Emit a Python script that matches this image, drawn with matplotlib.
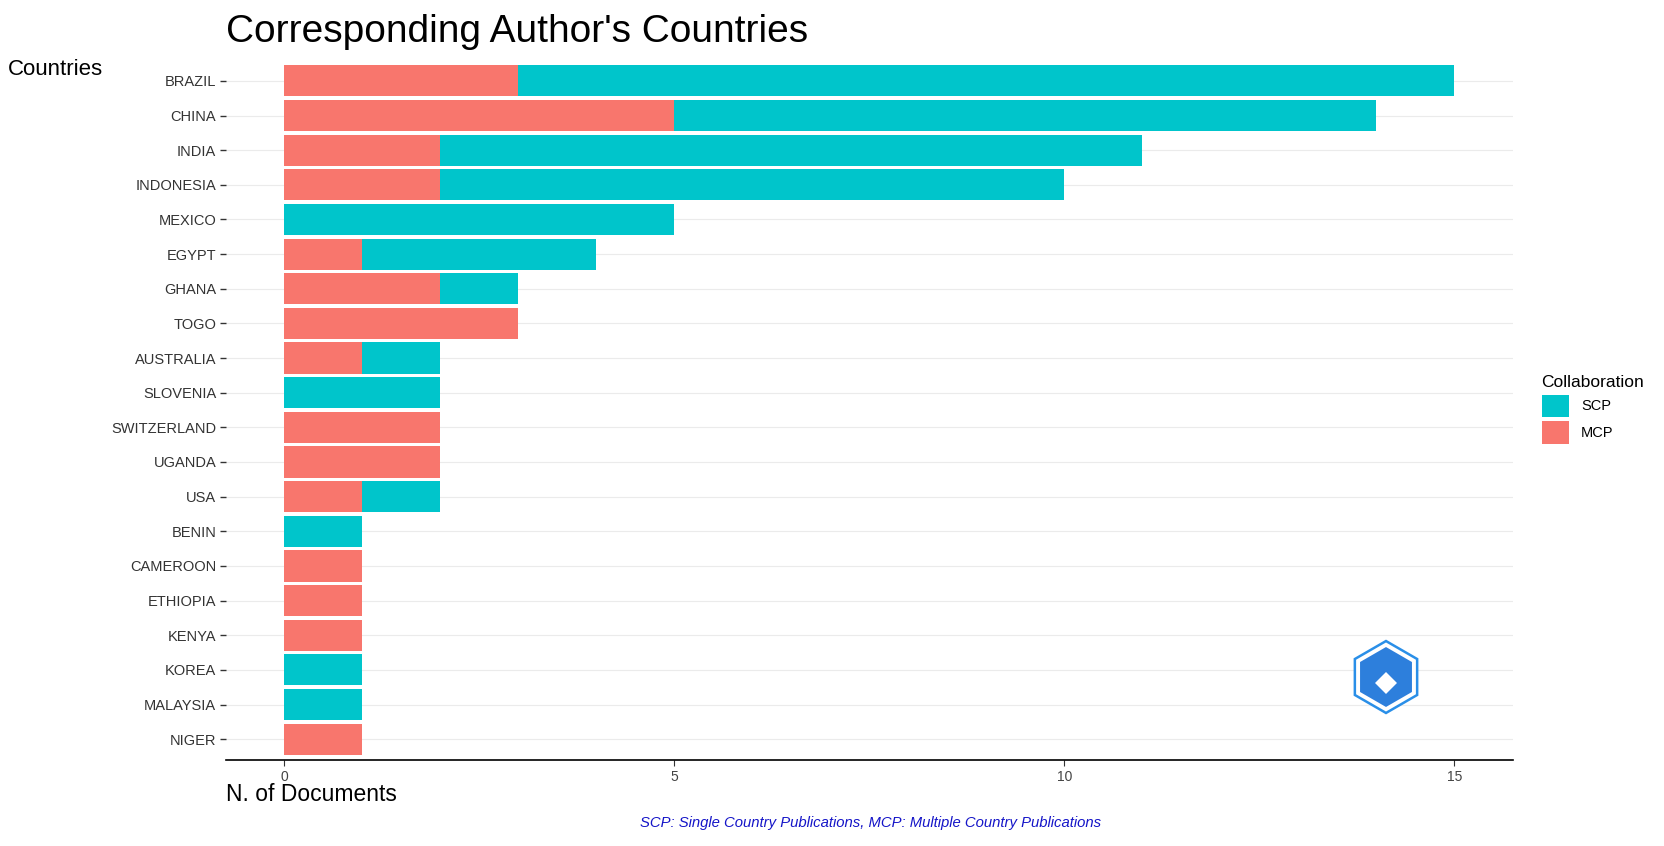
import matplotlib
matplotlib.use("Agg")
import matplotlib.pyplot as plt
from matplotlib.patches import RegularPolygon, Patch
import numpy as np

plt.rcParams["font.family"] = ["Liberation Sans", "DejaVu Sans"]

# data
countries = ["BRAZIL", "CHINA", "INDIA", "INDONESIA", "MEXICO", "EGYPT", "GHANA", "TOGO",
             "AUSTRALIA", "SLOVENIA", "SWITZERLAND", "UGANDA", "USA", "BENIN", "CAMEROON",
             "ETHIOPIA", "KENYA", "KOREA", "MALAYSIA", "NIGER"]
mcp = [3, 5, 2, 2, 0, 1, 2, 3, 1, 0, 2, 2, 1, 0, 1, 1, 1, 0, 0, 1]
scp = [12, 9, 9, 8, 5, 3, 1, 0, 1, 2, 0, 0, 1, 1, 0, 0, 0, 1, 1, 0]
x_ticks = [0, 5, 10, 15]

scp_color = "#00C5CB"
mcp_color = "#F8766D"

fig = plt.figure(figsize=(16.65, 8.46), dpi=100)
ax = fig.add_axes([0.1357, 0.1017, 0.7730, 0.8273])

y = np.arange(len(countries))
ax.barh(y, mcp, height=0.9, color=mcp_color, zorder=2)
ax.barh(y, scp, left=mcp, height=0.9, color=scp_color, zorder=2)

ax.set_yticks(y)
ax.set_yticklabels(countries, fontsize=10.5, color="#333333")
ax.set_ylim(len(countries) - 0.4, -0.6)
ax.set_xlim(-0.75, 15.75)
ax.set_xticks(x_ticks)
ax.set_xticklabels([str(t) for t in x_ticks], fontsize=10, color="#444444")

ax.grid(axis="y", color="#EBEBEB", linewidth=0.8, zorder=0)
ax.grid(axis="x", visible=False)
for s in ["top", "right", "left"]:
    ax.spines[s].set_visible(False)
ax.spines["bottom"].set_color("black")
ax.spines["bottom"].set_linewidth(1.2)
ax.tick_params(axis="y", length=4, width=1, color="#333333", pad=3)
ax.tick_params(axis="x", length=4, width=0.8, color="#333333", pad=3)

# titles
fig.text(0.1357, 0.962, "Corresponding Author's Countries", fontsize=28, va="center", ha="left")
fig.text(0.005, 0.918, "Countries", fontsize=16, va="center", ha="left")
fig.text(0.1357, 0.061, "N. of Documents", fontsize=16.5, va="center", ha="left")
fig.text(0.523, 0.027, "SCP: Single Country Publications, MCP: Multiple Country Publications",
         fontsize=10.7, style="italic", color="#1515C8", va="center", ha="center")

# legend
handles = [Patch(facecolor=scp_color, label="SCP"), Patch(facecolor=mcp_color, label="MCP")]
leg = fig.legend(handles=handles, title="Collaboration", loc="upper left",
                 bbox_to_anchor=(0.918, 0.572), frameon=False, fontsize=10.5,
                 title_fontsize=12.5, handlelength=1.9, handleheight=2.0,
                 handletextpad=0.8, labelspacing=0.3)
leg._legend_box.align = "left"

# logo (hexagon badge)
logo = fig.add_axes([1386 / 1665 - 0.03, 1 - 677 / 846 - 0.06, 0.06, 0.12])
logo.set_aspect("equal")
logo.set_xlim(-1, 1)
logo.set_ylim(-1, 1)
logo.axis("off")
logo.add_patch(RegularPolygon((0, 0), numVertices=6, radius=0.72, orientation=0,
                              facecolor="white", edgecolor="#2A8FE8", linewidth=1.8))
logo.add_patch(RegularPolygon((0, 0), numVertices=6, radius=0.6, orientation=0,
                              facecolor="#2D7FDC", edgecolor="none"))
logo.add_patch(RegularPolygon((0, -0.12), numVertices=4, radius=0.22, orientation=0,
                              facecolor="white", edgecolor="none"))

fig.savefig("out.png", dpi=100)
